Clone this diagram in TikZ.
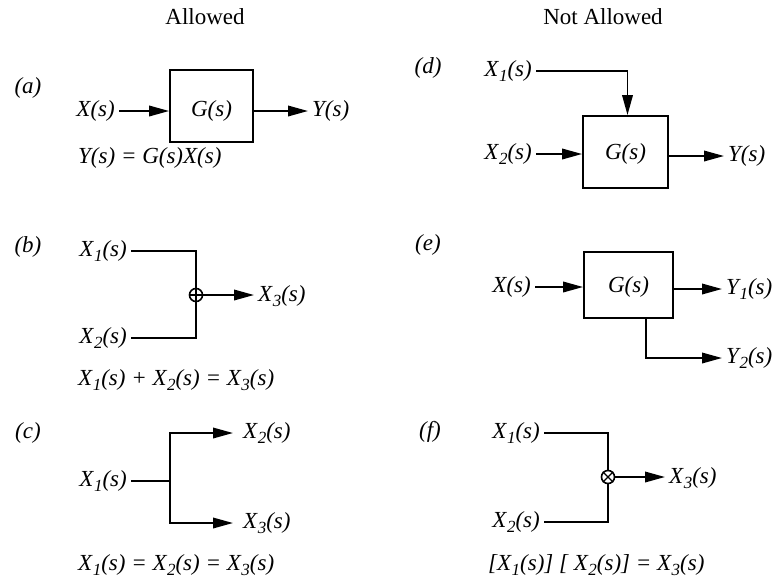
\documentclass[tikz,border=0pt]{standalone}
\usepackage{fontspec}
\setmainfont{Liberation Serif}
\usetikzlibrary{arrows.meta}
% lowered index digit, as in X_1(s)
\newcommand{\ix}[1]{\kern0.5pt\raisebox{-0.25em}{\fontsize{17}{17}\selectfont #1}}
\begin{document}
\begin{tikzpicture}[x=1pt,y=-1pt,
  wire/.style={line width=1.9pt},
  arr/.style={wire,-{Triangle[length=20pt,width=10.5pt]}},
  sig/.style={font=\fontsize{23}{26}\selectfont\itshape, inner xsep=4pt, inner ysep=0pt},
  tag/.style={font=\fontsize{23}{26}\selectfont\itshape, inner sep=0pt},
  hdr/.style={font=\fontsize{23}{26}\selectfont, inner sep=0pt},
  blk/.style={draw, line width=1.8pt, inner sep=0pt, font=\fontsize{23}{26}\selectfont\itshape},
  junc/.style={circle, draw, line width=1.6pt, minimum size=13pt, inner sep=0pt}]
\useasboundingbox (0,0) rectangle (784,582);

% column headings
\node[hdr] (hl) at (205,17) {Allowed};
\node[hdr] (hr) at (603,17) {Not Allowed};

% (a) single block
\node[tag] (ta) at (28,88) {(a)};
\node[blk, minimum width=83pt, minimum height=72pt] (ga) at (211.5,106) {};
\node[sig, inner xsep=0pt] (gal) at (211.5,111) {G(s)};
\node[sig, anchor=east] (xa) at (119,111) {X(s)};
\node[sig, anchor=west] (ya) at (308,111) {Y(s)};
\draw[arr] (xa.east) -- (xa.east -| ga.west);
\draw[arr] (ga.east |- ya.west) -- (ya.west);
\node[sig, anchor=west, inner xsep=0pt] (ea) at (78,158) {Y(s) = G(s)X(s)};

% (b) summing point
\node[tag] (tb) at (28,247) {(b)};
\node[sig, anchor=east] (b1) at (131,251) {X\ix{1}(s)};
\node[sig, anchor=east] (b2) at (131,338) {X\ix{2}(s)};
\node[junc] (bs) at (196,295) {};
\draw[line width=1.2pt] (bs.north) -- (bs.south) (bs.west) -- (bs.east);
\node[sig, anchor=west] (b3) at (254,296) {X\ix{3}(s)};
\draw[wire] (b1.east) -| (bs.north);
\draw[wire] (b2.east) -| (bs.south);
\draw[arr] (bs.east) -- (bs.east -| b3.west);
\node[sig, anchor=west, inner xsep=0pt] (eb) at (78,380) {X\ix{1}(s) + X\ix{2}(s) = X\ix{3}(s)};

% (c) pickoff point
\node[tag] (tc) at (28,433) {(c)};
\node[sig, anchor=east] (c1) at (131,481) {X\ix{1}(s)};
\coordinate (cj) at (170,481);
\node[sig, anchor=west, inner xsep=10pt] (c2) at (233,433) {X\ix{2}(s)};
\node[sig, anchor=west, inner xsep=10pt] (c3) at (233,523) {X\ix{3}(s)};
\draw[wire] (c1.east) -- (cj);
\draw[arr] (cj) |- (c2.west);
\draw[arr] (cj) |- (c3.west);
\node[sig, anchor=west, inner xsep=0pt] (ec) at (78,565) {X\ix{1}(s) = X\ix{2}(s) = X\ix{3}(s)};

% (d) two inputs into one block
\node[tag] (td) at (428,68) {(d)};
\node[blk, minimum width=85pt, minimum height=72pt] (gd) at (625.5,152) {};
\node[sig, inner xsep=0pt] (gdl) at (625.5,154) {G(s)};
\node[sig, anchor=east] (d1) at (536,71) {X\ix{1}(s)};
\node[sig, anchor=east] (d2) at (536,154) {X\ix{2}(s)};
\node[sig, anchor=west] (dy) at (724,156) {Y(s)};
\draw[arr] (d1.east) -| ([xshift=2pt]gd.north);
\draw[arr] (d2.east) -- (d2.east -| gd.west);
\draw[arr] (gd.east |- dy.west) -- (dy.west);

% (e) two outputs from one block
\node[tag] (te) at (428,245) {(e)};
\node[blk, minimum width=89pt, minimum height=66pt] (ge) at (628.5,285) {};
\node[sig, inner xsep=0pt] (gel) at (628.5,287) {G(s)};
\node[sig, anchor=east] (ex) at (535,287) {X(s)};
\node[sig, anchor=west] (ey1) at (722,289) {Y\ix{1}(s)};
\node[sig, anchor=west] (ey2) at (722,358) {Y\ix{2}(s)};
\draw[arr] (ex.east) -- (ex.east -| ge.west);
\draw[arr] (ge.east |- ey1.west) -- (ey1.west);
\coordinate (eb) at (646,318);
\draw[arr] (eb |- ge.south) |- (ey2.west);

% (f) multiplication point
\node[tag] (tf) at (430,432) {(f)};
\node[sig, anchor=east] (f1) at (544,433) {X\ix{1}(s)};
\node[sig, anchor=east] (f2) at (544,522) {X\ix{2}(s)};
\node[junc] (fm) at (608,477) {};
\draw[line width=1.2pt] (fm.45) -- (fm.225) (fm.135) -- (fm.315);
\node[sig, anchor=west] (f3) at (665,478) {X\ix{3}(s)};
\draw[wire] (f1.east) -| (fm.north);
\draw[wire] (f2.east) -| (fm.south);
\draw[arr] (fm.east) -- (fm.east -| f3.west);
\node[sig, anchor=west, inner xsep=0pt] (ef) at (488,565) {[X\ix{1}(s)] [ X\ix{2}(s)] = X\ix{3}(s)};
\end{tikzpicture}
\end{document}
